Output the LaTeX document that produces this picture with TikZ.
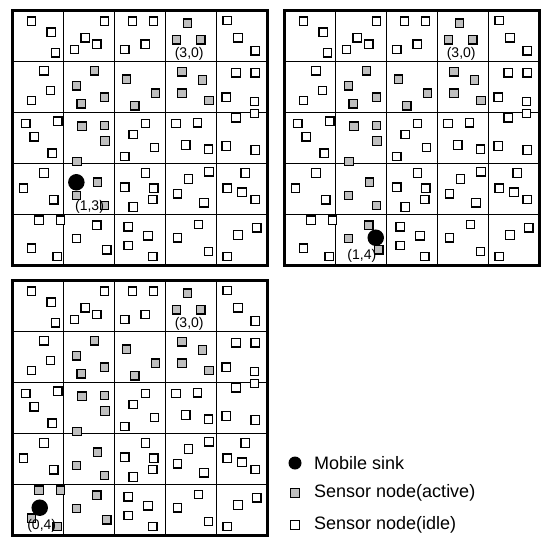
\documentclass[tikz,border=0pt]{standalone}
\usepackage{fontspec}
\setmainfont{Liberation Sans}
\tikzset{
  sq/.style={draw=black, minimum size=8.4pt, inner sep=0pt, line width=1.25pt},
  idlesq/.style={sq, fill=white},
  actsq/.style={sq, fill=gray!50},
  sinkdot/.style={circle, fill=black, inner sep=0pt, minimum size=16.5pt},
  cellline/.style={line width=0.9pt},
  frame/.style={line width=3pt},
  lab/.style={inner sep=0pt, font=\fontsize{14}{14}\selectfont},
  legtxt/.style={anchor=west, inner sep=0pt, font=\fontsize{18}{18}\selectfont},
}
\def\idleall{(59,34),(119,67),(132,130),(280,34),(222,84),(257,104),(189,120),(365,34),(429,34),(342,120),(404,104),(652,32),(685,84),(737,124),(97,184),(117,244),(59,274),(679,190),(737,190),(649,264),(735,277),(42,344),(139,337),(67,384),(122,434),(405,344),(367,377),(432,417),(342,444),(497,344),(562,342),(527,409),(595,422),(679,327),(735,314),(649,412),(737,424),(97,494),(35,540),(127,575),(405,494),(342,537),(430,540),(427,574),(367,597),(597,490),(535,512),(502,557),(582,584),(707,494),(652,540),(697,552),(737,574),(352,657),(412,684),(352,714),(427,747),(565,650),(502,690),(595,732),(742,660),(685,682),(652,747)}
\def\activeall{(532,40),(499,90),(572,90),(250,184),(195,230),(280,264),(210,284),(347,210),(435,252),(372,290),(515,187),(577,212),(515,252),(597,274),(212,352),(280,350),(282,397),(197,459),(259,522),(195,562),(280,592)}
\def\cellA{(257,652),(195,692),(287,727)}
\def\cellB{(82,637),(147,637),(59,722),(137,747)}
\newcommand{\gridlines}{%
  \foreach \k in {1,...,4} {
    \draw[cellline] (\k*155,0) -- (\k*155,775);
    \draw[cellline] (0,\k*155) -- (775,\k*155);
  }
  \draw[frame] (0,0) rectangle (775,775);
}
\begin{document}
\begin{tikzpicture}[x=1pt,y=-1pt]
\useasboundingbox (0,0) rectangle (544,539);
% ---------- grid 1 ----------
\begin{scope}[shift={(12pt,-10pt)}, x=0.33pt, y=-0.33pt]
  \gridlines
  \foreach \p [count=\i] in \idleall {\node[idlesq] (ai\i) at \p {};}
  \foreach \p [count=\i] in \cellA {\node[idlesq] (aA\i) at \p {};}
  \foreach \p [count=\i] in \cellB {\node[idlesq] (aB\i) at \p {};}
  \foreach \p [count=\i] in \activeall {\node[actsq] (aa\i) at \p {};}
  \node[sinkdot] (asink) at (195,522) {};
  \node[lab] (al1) at (537,133) {(3,0)};
  \node[lab] (al2) at (235,597) {(1,3)};
\end{scope}
% ---------- grid 2 ----------
\begin{scope}[shift={(284pt,-10pt)}, x=0.33pt, y=-0.33pt]
  \gridlines
  \foreach \p [count=\i] in \idleall {\node[idlesq] (bi\i) at \p {};}
  \foreach \p [count=\i] in \cellB {\node[idlesq] (bB\i) at \p {};}
  \foreach \p [count=\i] in \activeall {\node[actsq] (ba\i) at \p {};}
  \foreach \p [count=\i] in \cellA {\node[actsq] (bA\i) at \p {};}
  \node[sinkdot] (bsink) at (278,690) {};
  \node[lab] (bl1) at (537,133) {(3,0)};
  \node[lab] (bl2) at (236,745) {(1,4)};
\end{scope}
% ---------- grid 3 ----------
\begin{scope}[shift={(12pt,-280pt)}, x=0.33pt, y=-0.33pt]
  \gridlines
  \foreach \p [count=\i] in \idleall {\node[idlesq] (ci\i) at \p {};}
  \foreach \p [count=\i] in \activeall {\node[actsq] (ca\i) at \p {};}
  \foreach \p [count=\i] in \cellA {\node[actsq] (cA\i) at \p {};}
  \foreach \p [count=\i] in \cellB {\node[actsq] (cB\i) at \p {};}
  \node[sinkdot] (csink) at (84,690) {};
  \node[lab] (cl1) at (537,133) {(3,0)};
  \node[lab] (cl2) at (90,745) {(0,4)};
\end{scope}
% ---------- legend ----------
\node[circle, fill=black, inner sep=0pt, minimum size=13pt] (legsink) at (295,463) {};
\node[sq, fill=gray!50, minimum size=9.5pt] (legact) at (295,493) {};
\node[sq, fill=white, minimum size=9.5pt] (legidle) at (295,525) {};
\node[legtxt] (t1) at (314,463) {Mobile sink};
\node[legtxt] (t2) at (314,493) {Sensor node(active)};
\node[legtxt] (t3) at (314,525) {Sensor node(idle)};
\end{tikzpicture}
\end{document}
